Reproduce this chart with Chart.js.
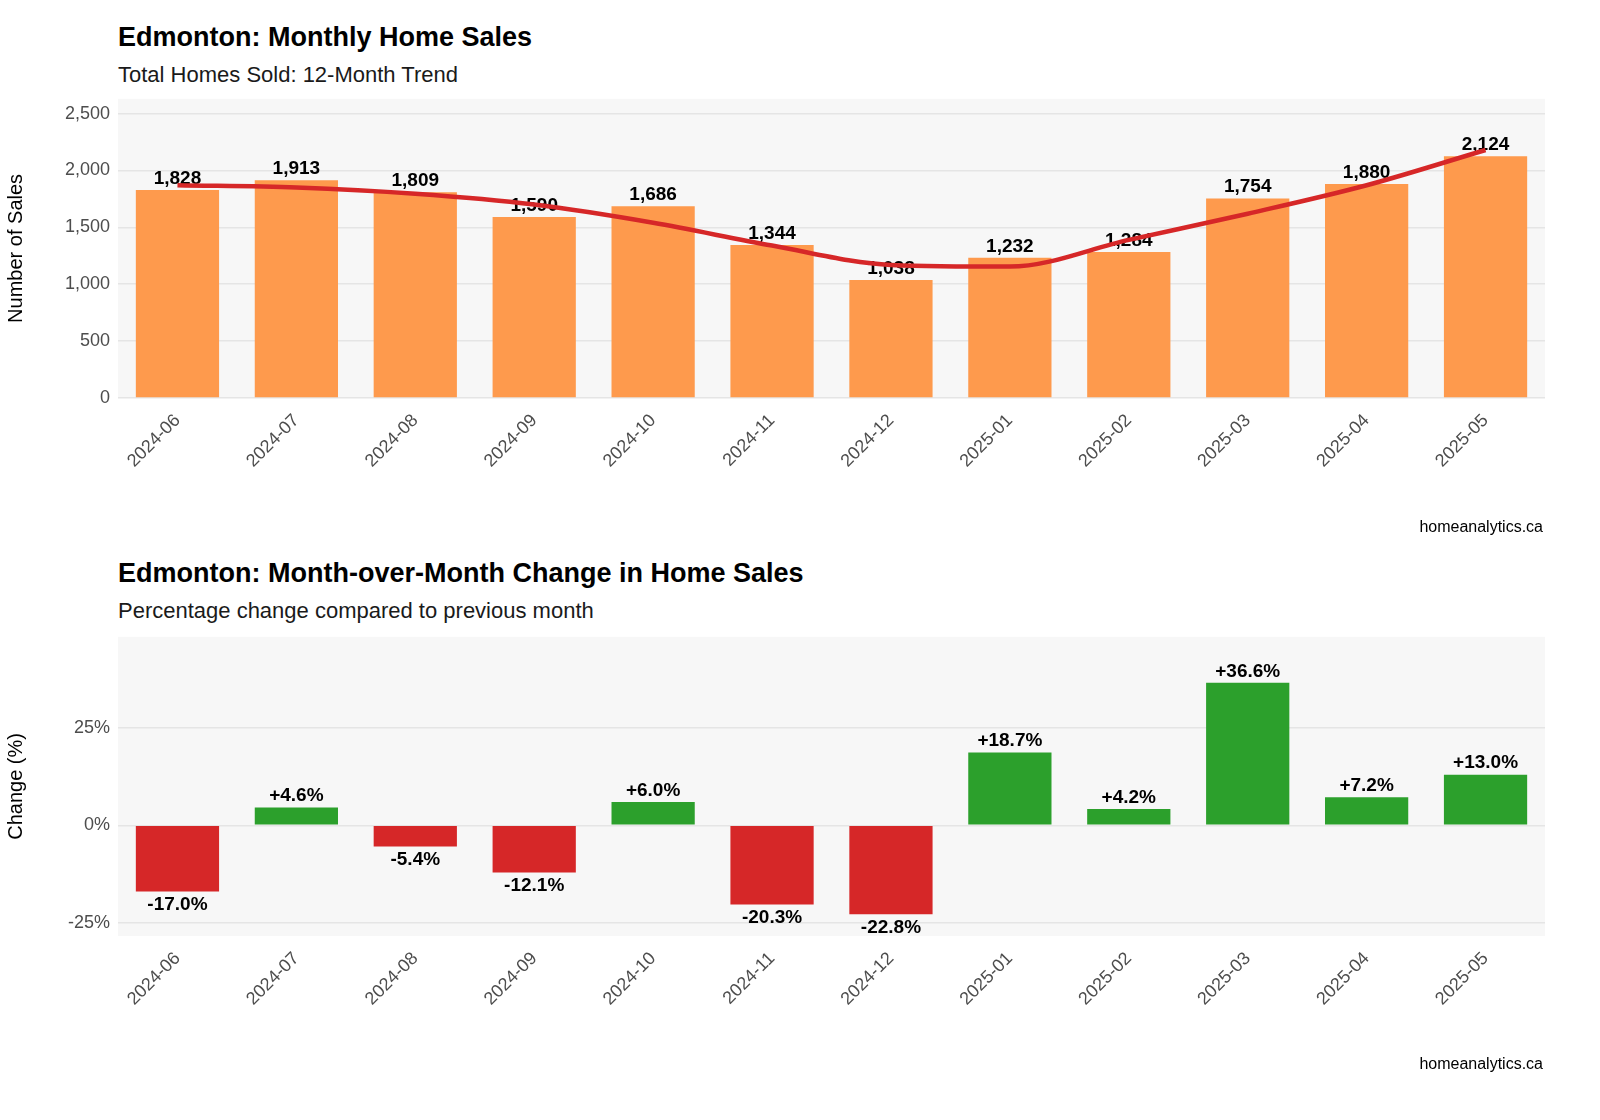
<!DOCTYPE html>
<html>
<head>
<meta charset="utf-8">
<script src="https://cdn.jsdelivr.net/npm/chart.js@4"></script>
<style>
  body { margin: 0; width: 1600px; height: 1120px; background: #fff; font-family: "Liberation Sans", Arial, sans-serif; position: relative; }
  .t { position: absolute; left: 118px; font-weight: bold; font-size: 27px; color: #000; }
  .s { position: absolute; left: 118px; font-size: 22px; color: #1a1a1a; }
  .src { position: absolute; right: 57px; font-size: 16px; color: #000; }
  .c { position: absolute; left: 0; width: 1560px; }
</style>
</head>
<body>
<div class="t" style="top:22px">Edmonton: Monthly Home Sales</div>
<div class="s" style="top:62px">Total Homes Sold: 12-Month Trend</div>
<div class="c" style="top:80px;height:450px"><canvas id="sales"></canvas></div>
<div class="src" style="top:518px">homeanalytics.ca</div>
<div class="t" style="top:558px">Edmonton: Month-over-Month Change in Home Sales</div>
<div class="s" style="top:598px">Percentage change compared to previous month</div>
<div class="c" style="top:618px;height:440px"><canvas id="change"></canvas></div>
<div class="src" style="top:1055px">homeanalytics.ca</div>
<script>
const months = ['2024-06','2024-07','2024-08','2024-09','2024-10','2024-11','2024-12','2025-01','2025-02','2025-03','2025-04','2025-05'];
const sales = [1828, 1913, 1809, 1590, 1686, 1344, 1038, 1232, 1284, 1754, 1880, 2124];
const trend = [1870, 1850, 1795, 1700, 1540, 1340, 1170, 1155, 1390, 1620, 1870, 2180];
const pctChange = [-17.0, 4.6, -5.4, -12.1, 6.0, -20.3, -22.8, 18.7, 4.2, 36.6, 7.2, 13.0];
const salesTicks = [0, 500, 1000, 1500, 2000, 2500];
const pctTicks = [-25, 0, 25];

const font = "'Liberation Sans', Arial, sans-serif";
const gridColor = '#e5e5e5';
const tickColor = '#4d4d4d';

const panelBg = {
  id: 'panelBg',
  beforeDraw(chart) {
    const a = chart.chartArea, ctx = chart.ctx;
    ctx.save();
    ctx.fillStyle = '#f7f7f7';
    ctx.fillRect(a.left, a.top, a.right - a.left, a.bottom - a.top);
    ctx.restore();
  }
};

function barLabels(fmt) {
  return {
    id: 'barLabels',
    afterDatasetDraw(chart, args) {
      if (args.index !== 0) return;
      const ctx = chart.ctx;
      const meta = chart.getDatasetMeta(0);
      const vals = chart.data.datasets[0].data;
      ctx.save();
      ctx.font = 'bold 19px ' + font;
      ctx.fillStyle = '#000';
      ctx.textAlign = 'center';
      meta.data.forEach((bar, i) => {
        const v = vals[i];
        if (v >= 0) { ctx.textBaseline = 'bottom'; ctx.fillText(fmt(v), bar.x, bar.y - 2); }
        else { ctx.textBaseline = 'top'; ctx.fillText(fmt(v), bar.x, bar.y + 4); }
      });
      ctx.restore();
    }
  };
}

function xAxis(height) {
  return {
    grid: { display: false },
    border: { display: false },
    ticks: { color: tickColor, font: { size: 18, family: font }, maxRotation: 45, minRotation: 45, padding: 4 },
    afterFit(s) { s.height = height; }
  };
}

function yAxis(title, min, max, ticks, fmt) {
  return {
    min: min, max: max,
    border: { display: false },
    grid: { color: gridColor, lineWidth: 1.5, drawTicks: false },
    title: { display: true, text: title, color: '#000', font: { size: 20, family: font } },
    ticks: { color: tickColor, font: { size: 18, family: font }, padding: 8, callback: fmt },
    afterBuildTicks(s) { s.ticks = ticks.map(v => ({ value: v })); },
    afterFit(s) { s.width = 118; }
  };
}

Chart.defaults.animation = false;

new Chart(document.getElementById('sales'), {
  type: 'bar',
  data: {
    labels: months,
    datasets: [
      { data: sales, backgroundColor: '#fe9a4d', barPercentage: 0.7, categoryPercentage: 1, order: 2 },
      { type: 'line', data: trend, borderColor: '#d62728', borderWidth: 4.5, pointRadius: 0, tension: 0.4, cubicInterpolationMode: 'monotone', order: 1 }
    ]
  },
  options: {
    responsive: true, maintainAspectRatio: false,
    layout: { padding: { top: 0, right: 15 } },
    plugins: { legend: { display: false }, tooltip: { enabled: false } },
    scales: {
      x: xAxis(132),
      y: yAxis('Number of Sales', 0, 2630, salesTicks, v => v.toLocaleString('en-US'))
    }
  },
  plugins: [panelBg, barLabels(v => v.toLocaleString('en-US'))]
});

new Chart(document.getElementById('change'), {
  type: 'bar',
  data: {
    labels: months,
    datasets: [
      { data: pctChange, backgroundColor: pctChange.map(v => v >= 0 ? '#2ca02c' : '#d62728'), barPercentage: 0.7, categoryPercentage: 1 }
    ]
  },
  options: {
    responsive: true, maintainAspectRatio: false,
    layout: { padding: { top: 0, right: 15 } },
    plugins: { legend: { display: false }, tooltip: { enabled: false } },
    scales: {
      x: xAxis(122),
      y: yAxis('Change (%)', -28.4, 48.4, pctTicks, v => v + '%')
    }
  },
  plugins: [panelBg, barLabels(v => (v > 0 ? '+' : '') + v.toFixed(1) + '%')]
});
</script>
</body>
</html>
